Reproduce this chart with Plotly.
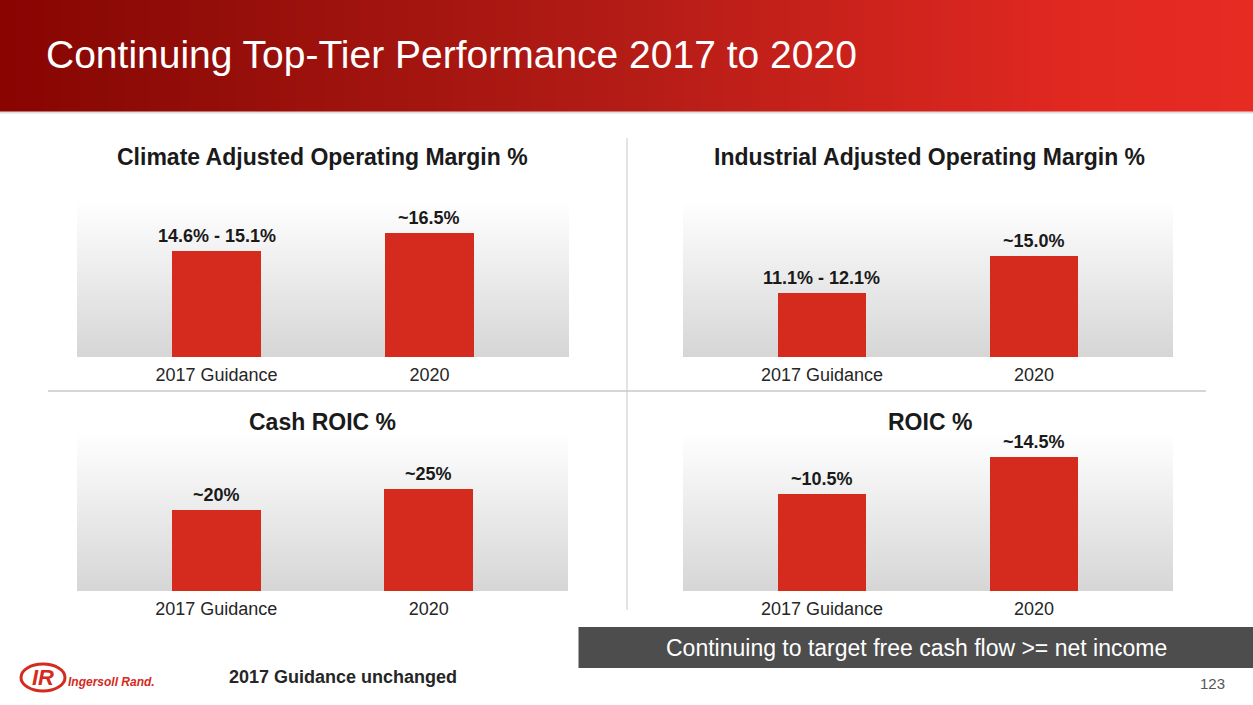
import base64
import struct
import zlib

import plotly.graph_objects as go

W, H = 1253, 705

# ---------------- data ----------------
categories = ["2017 Guidance", "2020"]

climate_values = [14.85, 16.5]
climate_labels = ["14.6% - 15.1%", "~16.5%"]

industrial_values = [11.6, 15.0]
industrial_labels = ["11.1% - 12.1%", "~15.0%"]

cash_roic_values = [20, 25]
cash_roic_labels = ["~20%", "~25%"]

roic_values = [10.5, 14.5]
roic_labels = ["~10.5%", "~14.5%"]

panel_titles = [
    "Climate Adjusted Operating Margin %",
    "Industrial Adjusted Operating Margin %",
    "Cash ROIC %",
    "ROIC %",
]

page_title = "Continuing Top-Tier Performance 2017 to 2020"
footer_box_text = "Continuing to target free cash flow >= net income"
footnote_text = "2017 Guidance unchanged"
page_number = "123"

# ---------------- styling ----------------
BAR_COLOR = "#D52A1E"
FONT = "Liberation Sans, Arial, sans-serif"


def px_x(px):
    return px / W


def px_y(py):
    return 1 - py / H


def png_uri(rows):
    h = len(rows)
    w = len(rows[0])
    raw = b"".join(b"\x00" + bytes([c for p in row for c in p]) for row in rows)

    def chunk(t, d):
        c = struct.pack(">I", len(d)) + t + d
        return c + struct.pack(">I", zlib.crc32(t + d) & 0xFFFFFFFF)

    png = (
        b"\x89PNG\r\n\x1a\n"
        + chunk(b"IHDR", struct.pack(">IIBBBBB", w, h, 8, 2, 0, 0, 0))
        + chunk(b"IDAT", zlib.compress(raw))
        + chunk(b"IEND", b"")
    )
    return "data:image/png;base64," + base64.b64encode(png).decode()


def interp(stops, t):
    for (t0, c0), (t1, c1) in zip(stops, stops[1:]):
        if t0 <= t <= t1:
            f = (t - t0) / (t1 - t0) if t1 > t0 else 0
            return tuple(int(round(a + (b - a) * f)) for a, b in zip(c0, c1))
    return stops[-1][1]


header_stops = [
    (0.0, (138, 4, 2)),
    (0.08, (140, 10, 6)),
    (0.5, (180, 28, 22)),
    (0.85, (224, 40, 33)),
    (1.0, (230, 43, 35)),
]
header_row = [interp(header_stops, i / 255) for i in range(256)]
header_img = png_uri([header_row])

panel_stops = [(0.0, (255, 255, 255)), (1.0, (214, 214, 214))]
panel_img = png_uri([[interp(panel_stops, i / 127)] * 2 for i in range(128)])

# panel geometry in pixels: (x0, x1, y_top, y_bottom)
panels = [
    (77, 569, 200, 357),
    (683, 1173, 200, 357),
    (77, 568, 433, 591),
    (683, 1173, 433, 591),
]
title_pos = [(322, 157), (929, 157), (322, 422), (930, 422)]
y_ranges = [[5.16, 19.51], [5.58, 20.24], [0, 38.9], [0, 17.1]]
x_range = [-0.655, 1.655]

series_values = [climate_values, industrial_values, cash_roic_values, roic_values]
series_labels = [climate_labels, industrial_labels, cash_roic_labels, roic_labels]

fig = go.Figure()
annotations = []
images = []
shapes = []

for i, (vals, labs) in enumerate(zip(series_values, series_labels)):
    n = i + 1
    xa = "x" if n == 1 else f"x{n}"
    ya = "y" if n == 1 else f"y{n}"
    fig.add_trace(
        go.Bar(
            x=categories,
            y=vals,
            width=0.418,
            marker=dict(color=BAR_COLOR, line=dict(width=0)),
            xaxis=xa,
            yaxis=ya,
            showlegend=False,
            hoverinfo="skip",
        )
    )
    x0, x1, yt, yb = panels[i]
    xkey = "xaxis" if n == 1 else f"xaxis{n}"
    ykey = "yaxis" if n == 1 else f"yaxis{n}"
    fig.layout[xkey] = dict(
        type="category",
        domain=[px_x(x0), px_x(x1)],
        anchor=ya,
        range=x_range,
        showgrid=False,
        zeroline=False,
        showline=False,
        ticks="",
        tickfont=dict(family=FONT, size=18, color="#262626"),
        fixedrange=True,
        ticklabelstandoff=5,
    )
    fig.layout[ykey] = dict(
        domain=[px_y(yb), px_y(yt)],
        anchor=xa,
        range=y_ranges[i],
        visible=False,
        fixedrange=True,
    )
    images.append(
        dict(
            source=panel_img,
            xref="paper",
            yref="paper",
            x=px_x(x0),
            y=px_y(yt),
            sizex=(x1 - x0) / W,
            sizey=(yb - yt) / H,
            xanchor="left",
            yanchor="top",
            sizing="stretch",
            layer="below",
        )
    )
    for j, (v, t) in enumerate(zip(vals, labs)):
        annotations.append(
            dict(
                x=j,
                y=v,
                xref=xa,
                yref=ya,
                text=f"<b>{t}</b>",
                showarrow=False,
                yanchor="bottom",
                yshift=3,
                font=dict(family=FONT, size=18, color="#1A1A1A"),
            )
        )
    tx, ty = title_pos[i]
    annotations.append(
        dict(
            x=px_x(tx),
            y=px_y(ty),
            xref="paper",
            yref="paper",
            text=f"<b>{panel_titles[i]}</b>",
            showarrow=False,
            xanchor="center",
            yanchor="middle",
            font=dict(family=FONT, size=23, color="#1A1A1A"),
        )
    )

# header
images.append(
    dict(
        source=header_img,
        xref="paper",
        yref="paper",
        x=0,
        y=1,
        sizex=1,
        sizey=111.7 / H,
        xanchor="left",
        yanchor="top",
        sizing="stretch",
        layer="below",
    )
)
shapes.append(
    dict(type="rect", xref="paper", yref="paper", x0=0, x1=1,
         y0=px_y(113.5), y1=px_y(111.7), fillcolor="#DCDCDC", line=dict(width=0))
)
annotations.append(
    dict(
        x=px_x(44), y=px_y(54), xref="paper", yref="paper",
        text=page_title, showarrow=False, xanchor="left", yanchor="middle",
        font=dict(family=FONT, size=39, color="white"),
    )
)

# dividers
shapes.append(
    dict(type="line", xref="paper", yref="paper", x0=px_x(627), x1=px_x(627),
         y0=px_y(610), y1=px_y(138), line=dict(color="#C8C8C8", width=1))
)
shapes.append(
    dict(type="line", xref="paper", yref="paper", x0=px_x(48), x1=px_x(1206),
         y0=px_y(391), y1=px_y(391), line=dict(color="#C8C8C8", width=1.5))
)

# footer box
shapes.append(
    dict(type="rect", xref="paper", yref="paper", x0=px_x(578.5), x1=1,
         y0=px_y(668), y1=px_y(627), fillcolor="#4D4D4D", line=dict(width=0))
)
annotations.append(
    dict(
        x=px_x(916), y=px_y(648), xref="paper", yref="paper",
        text=footer_box_text, showarrow=False, xanchor="center", yanchor="middle",
        font=dict(family=FONT, size=23, color="white"),
    )
)
annotations.append(
    dict(
        x=px_x(227), y=px_y(677), xref="paper", yref="paper",
        text=f"<b>{footnote_text}</b>", showarrow=False, xanchor="left", yanchor="middle",
        font=dict(family=FONT, size=18, color="#262626"),
    )
)
annotations.append(
    dict(
        x=px_x(1227), y=px_y(683), xref="paper", yref="paper",
        text=page_number, showarrow=False, xanchor="right", yanchor="middle",
        font=dict(family=FONT, size=15, color="#555555"),
    )
)

# logo (approximation)
shapes.append(
    dict(type="circle", xref="paper", yref="paper", x0=px_x(21), x1=px_x(65),
         y0=px_y(691), y1=px_y(664), fillcolor="white",
         line=dict(color="#D52A1E", width=3))
)
annotations.append(
    dict(
        x=px_x(43), y=px_y(677.5), xref="paper", yref="paper",
        text="<b><i>IR</i></b>", showarrow=False, xanchor="center", yanchor="middle",
        font=dict(family=FONT, size=22, color="#D52A1E"),
    )
)
annotations.append(
    dict(
        x=px_x(66), y=px_y(682), xref="paper", yref="paper",
        text="<b><i>Ingersoll Rand.</i></b>", showarrow=False, xanchor="left", yanchor="middle",
        font=dict(family=FONT, size=12, color="#D52A1E"),
    )
)

fig.update_layout(
    width=W,
    height=H,
    margin=dict(l=0, r=0, t=0, b=0),
    paper_bgcolor="white",
    plot_bgcolor="rgba(0,0,0,0)",
    annotations=annotations,
    images=images,
    shapes=shapes,
    bargap=0,
    showlegend=False,
    font=dict(family=FONT),
)

fig.write_html(
    "out.html",
    config={"displayModeBar": False},
    post_script="document.body.style.margin='0';document.body.style.overflow='hidden';",
)
